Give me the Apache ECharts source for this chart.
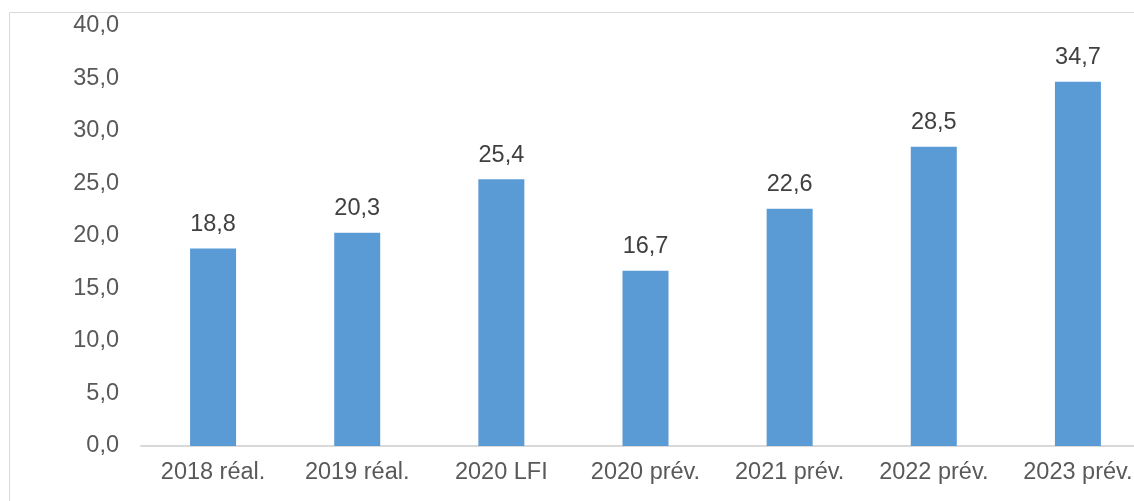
<!DOCTYPE html>
<html>
<head>
<meta charset="utf-8">
<script src="https://cdn.jsdelivr.net/npm/echarts@6/dist/echarts.min.js"></script>
<style>
html, body { margin: 0; padding: 0; background: #fff; }
#chart { width: 1134px; height: 501px; }
</style>
</head>
<body>
<div id="chart"></div>
<script>
// catégories et valeurs
var categories = ['2018 réal.', '2019 réal.', '2020 LFI', '2020 prév.', '2021 prév.', '2022 prév.', '2023 prév.'];
var values = [18.8, 20.3, 25.4, 16.7, 22.6, 28.5, 34.7];

function virgule(v) {
    return Number(v).toFixed(1).replace('.', ',');
}

var chart = echarts.init(document.getElementById('chart'));
var option = {
    animation: false,
    textStyle: { fontFamily: 'Liberation Sans, Arial, sans-serif' },
    graphic: [
        {
            type: 'rect',
            shape: { x: 9.5, y: 12.5, width: 1300, height: 700 },
            style: { fill: 'none', stroke: '#d9d9d9', lineWidth: 1 },
            silent: true
        }
    ],
    grid: {
        left: 141,
        right: -16,
        top: 26,
        bottom: 55,
        containLabel: false,
        outerBoundsMode: 'none'
    },
    xAxis: {
        type: 'category',
        data: categories,
        axisLine: { lineStyle: { color: '#d9d9d9', width: 2 } },
        axisTick: { show: false },
        axisLabel: { color: '#595959', fontSize: 23.5, margin: 15, interval: 0 }
    },
    yAxis: {
        type: 'value',
        min: 0,
        max: 40,
        interval: 5,
        axisLine: { show: false },
        axisTick: { show: false },
        splitLine: { show: false },
        axisLabel: {
            color: '#595959',
            fontSize: 23.5,
            margin: 22,
            formatter: virgule
        }
    },
    series: [
        {
            type: 'bar',
            data: values,
            barWidth: 46,
            itemStyle: { color: '#5b9bd5' },
            label: {
                show: true,
                position: 'top',
                distance: 12,
                color: '#404040',
                fontSize: 23.5,
                formatter: function (p) { return virgule(p.value); }
            }
        }
    ]
};
chart.setOption(option);
</script>
</body>
</html>
